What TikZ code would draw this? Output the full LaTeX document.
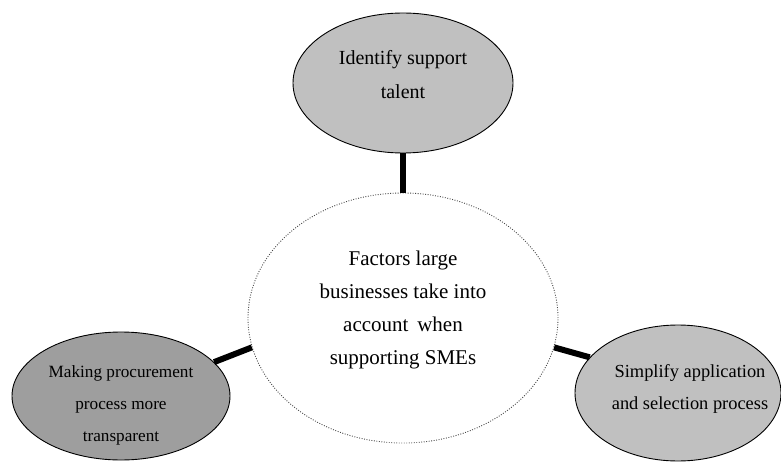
\documentclass[tikz,border=0pt]{standalone}
\usepackage{fontspec}
\setmainfont{Liberation Serif}
\usetikzlibrary{shapes.geometric}
\definecolor{lightfill}{RGB}{192,192,192}
\definecolor{darkfill}{RGB}{158,158,158}
\definecolor{dotline}{RGB}{70,70,70}
\begin{document}
\begin{tikzpicture}[x=1pt,y=-1pt,
  bubble/.style={ellipse, draw=black, line width=0.9pt, inner sep=0pt},
  hub/.style={ellipse, draw=dotline, line width=0.9pt, dash pattern=on 0.9pt off 1.6pt, fill=white, inner sep=0pt,
    minimum width=310pt, minimum height=250pt},
  label/.style={align=center, inner sep=0pt},
  link/.style={line width=6pt}]
\useasboundingbox (0,0) rectangle (781,462);
\fill[white] (0,0) rectangle (781,462);

% central ellipse and the three factor ellipses
\node[hub] (hub) at (403,318) {};
\node[bubble, fill=lightfill, minimum width=220pt, minimum height=140pt] (talent) at (403,83) {};
\node[bubble, fill=darkfill, minimum width=218pt, minimum height=128pt] (procure) at (121,396) {};
\node[bubble, fill=lightfill, minimum width=206pt, minimum height=136pt] (simplify) at (678,393) {};

% texts
\node[label, font=\fontsize{20}{34}\selectfont] (talentText) at (403,75) {Identify support\\talent};
\node[label, font=\fontsize{21}{33}\selectfont] (hubText) at (403,310) {Factors large\\businesses take into\\account\, when\\supporting SMEs};
\node[label, font=\fontsize{17.2}{32}\selectfont] (procureText) at (121,405) {Making procurement\\process more\\transparent};
\node[label, font=\fontsize{18.4}{32}\selectfont] (simplifyText) at (690,389) {Simplify application\\and selection process};

% connectors
\draw[link] (hub.90) -- (talent.270);
\draw[link] (hub.191) -- (procure.20);
\draw[link] (hub.349.5) -- (simplify.158);
\end{tikzpicture}
\end{document}
